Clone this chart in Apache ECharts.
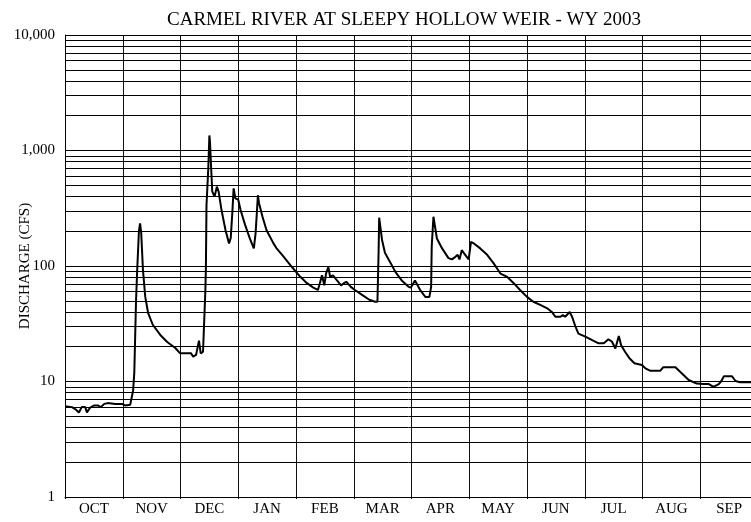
<!DOCTYPE html>
<html>
<head>
<meta charset="utf-8">
<title>Carmel River - WY 2003</title>
<script src="https://cdn.jsdelivr.net/npm/echarts@6/dist/echarts.min.js"></script>
<style>
  html, body { margin: 0; padding: 0; background: #fff; }
  #chart { width: 751px; height: 522px; }
</style>
</head>
<body>
<div id="chart"></div>
<script>
// 月份标签 (水文年 10月 - 9月)
var months = ['OCT', 'NOV', 'DEC', 'JAN', 'FEB', 'MAR', 'APR', 'MAY', 'JUN', 'JUL', 'AUG', 'SEP']

// 时间位置：以月为单位，0 = 10月1日，12 = 9月30日
var monthPos = [
  0, 0.12, 0.19, 0.24, 0.29, 0.35, 0.38, 0.43, 0.50, 0.57, 0.62, 0.68, 0.74, 0.87, 0.99,
  1.04, 1.13, 1.18, 1.20, 1.23, 1.25, 1.28, 1.30, 1.32, 1.35, 1.39, 1.44, 1.52, 1.65, 1.77, 1.91, 1.99,
  2.10, 2.18, 2.22, 2.27, 2.32, 2.35, 2.39, 2.43, 2.44, 2.45, 2.48, 2.50, 2.51, 2.53, 2.55, 2.59,
  2.63, 2.66, 2.71, 2.78, 2.84, 2.87, 2.90, 2.92, 2.95, 2.97,
  3.00, 3.04, 3.12, 3.21, 3.27, 3.30, 3.32, 3.34, 3.36, 3.42, 3.49, 3.61, 3.66, 3.76, 3.93,
  4.07, 4.19, 4.30, 4.38, 4.42, 4.45, 4.49, 4.52, 4.56, 4.59, 4.64, 4.71, 4.78, 4.83, 4.87, 4.90, 4.95,
  5.02, 5.15, 5.27, 5.37, 5.41, 5.43, 5.44, 5.49, 5.54, 5.63, 5.72, 5.83, 5.95, 5.99,
  6.06, 6.09, 6.15, 6.24, 6.31, 6.34, 6.35, 6.38, 6.44, 6.53, 6.64, 6.70, 6.76, 6.80, 6.83, 6.87, 6.93, 6.99,
  7.03, 7.07, 7.19, 7.31, 7.42, 7.54, 7.65, 7.77, 7.88,
  8.00, 8.11, 8.23, 8.35, 8.43, 8.49, 8.58, 8.62, 8.66, 8.74, 8.78, 8.84, 8.89,
  9.01, 9.12, 9.24, 9.33, 9.41, 9.47, 9.53, 9.59, 9.63, 9.70, 9.77, 9.86, 9.99,
  10.05, 10.13, 10.31, 10.36, 10.57, 10.60, 10.71, 10.80, 10.94,
  11.06, 11.15, 11.23, 11.32, 11.36, 11.41, 11.55, 11.61, 11.69, 11.86, 12.0
]

// 流量 (CFS)
var cfs = [
  6.1, 6.0, 5.7, 5.4, 6.0, 6.0, 5.4, 5.9, 6.2, 6.2, 6.0, 6.4, 6.5, 6.4, 6.4,
  6.2, 6.3, 8.4, 12, 50, 92, 200, 234, 193, 92, 54, 39, 31, 25.3, 22, 19.5, 17.6,
  17.6, 17.6, 16.4, 17, 22.6, 17.5, 18.1, 60, 98, 336, 680, 1350, 1200, 720, 440, 400,
  486, 440, 305, 204, 157, 175, 305, 470, 385, 375,
  375, 305, 226, 168, 142, 192, 277, 410, 350, 267, 204, 157, 143, 125, 98,
  81, 71, 65, 62, 73, 83, 68, 86, 98, 81, 83, 75, 68, 71, 73, 71, 66,
  62, 56, 51, 49, 49, 130, 262, 168, 130, 108, 89, 75, 66, 65,
  75, 73, 62, 54, 54, 66, 147, 267, 173, 142, 117, 114, 120, 125, 114, 137, 125, 114,
  162, 158, 142, 125, 106, 86, 81, 71, 62,
  54, 49, 46, 43, 40, 36.4, 36.4, 37.6, 36.4, 40, 36.4, 29.8, 26,
  24.5, 22.9, 21.4, 21.4, 23.2, 22.2, 19.3, 24.8, 20.6, 18, 16, 14.4, 13.9,
  13.0, 12.4, 12.4, 13.3, 13.3, 12.8, 11.4, 10.3, 9.6,
  9.5, 9.5, 9.0, 9.5, 10.0, 11.1, 11.1, 10.1, 9.85, 9.85, 9.8
]

// 对数坐标的次级网格线
var minorLines = [
  2, 3, 4, 5, 6, 7, 8, 9,
  20, 30, 40, 50, 60, 70, 80, 90,
  200, 300, 400, 500, 600, 700, 800, 900,
  2000, 3000, 4000, 5000, 6000, 7000, 8000, 9000
]

var seriesData = monthPos.map(function (m, i) { return [m, cfs[i]] })

var font = 'Liberation Serif'
var myChart = echarts.init(document.getElementById('chart'))

var option = {
  backgroundColor: '#fff',
  animation: false,
  title: {
    text: 'CARMEL RIVER AT SLEEPY HOLLOW WEIR - WY 2003',
    left: 162,
    top: 6,
    textStyle: { fontFamily: font, fontSize: 19, fontWeight: 'normal', color: '#000' }
  },
  // 右侧被裁掉一点，最后一条月份线在画布外
  grid: { left: 65, right: -7, top: 35, bottom: 25, containLabel: false, outerBoundsMode: 'none' },
  xAxis: [
    {
      type: 'value',
      min: 0,
      max: 12,
      interval: 1,
      axisLine: { show: true, lineStyle: { color: '#000', width: 1 } },
      axisTick: { show: true, length: 2, lineStyle: { color: '#000' } },
      axisLabel: { show: false },
      splitLine: { show: true, lineStyle: { color: '#111', width: 1 } }
    },
    {
      type: 'category',
      data: months,
      boundaryGap: true,
      position: 'bottom',
      axisLine: { show: false },
      axisTick: { show: false },
      splitLine: { show: false },
      axisLabel: { interval: 0, margin: 5, fontFamily: font, fontSize: 15, color: '#000' }
    }
  ],
  yAxis: {
    type: 'log',
    logBase: 10,
    min: 1,
    max: 10000,
    name: 'DISCHARGE (CFS)',
    nameLocation: 'middle',
    nameGap: 32,
    nameMoveOverlap: false,
    nameTextStyle: { fontFamily: font, fontSize: 15, color: '#000' },
    axisLine: { show: true, lineStyle: { color: '#000', width: 1 } },
    axisTick: { show: false },
    axisLabel: {
      margin: 10,
      fontFamily: font,
      fontSize: 15,
      color: '#000',
      formatter: function (v) { return Number(v).toLocaleString('en-US') }
    },
    splitLine: { show: true, lineStyle: { color: '#000', width: 1 } }
  },
  series: [
    {
      type: 'line',
      xAxisIndex: 0,
      data: seriesData,
      showSymbol: false,
      symbol: 'none',
      lineStyle: { color: '#000', width: 2 },
      markLine: {
        silent: true,
        symbol: 'none',
        label: { show: false },
        lineStyle: { color: '#000', width: 1, type: 'solid' },
        data: minorLines.map(function (v) { return { yAxis: v } })
      }
    }
  ]
}

myChart.setOption(option)
</script>
</body>
</html>
